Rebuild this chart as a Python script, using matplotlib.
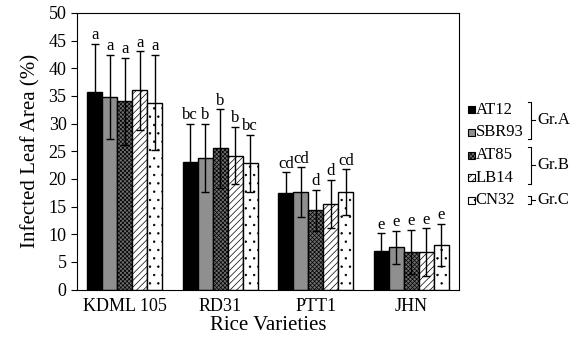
import matplotlib
matplotlib.use("Agg")
import matplotlib.pyplot as plt
from matplotlib import font_manager
import numpy as np
from matplotlib.patches import Rectangle
from matplotlib.lines import Line2D

names = sorted({f.name for f in font_manager.fontManager.ttflist})
serif_choice = [n for n in names if "Liberation Serif" in n or "Times" in n]
plt.rcParams['font.family'] = 'serif'
plt.rcParams['font.serif'] = serif_choice + ['DejaVu Serif']
plt.rcParams['hatch.linewidth'] = 0.5

categories = ["KDML 105", "RD31", "PTT1", "JHN"]
series = ["AT12", "SBR93", "AT85", "LB14", "CN32"]
values = {
    "AT12":  [35.7, 23.0, 17.5, 7.0],
    "SBR93": [34.8, 23.8, 17.6, 7.6],
    "AT85":  [34.0, 25.5, 14.3, 6.8],
    "LB14":  [36.0, 24.2, 15.5, 6.8],
    "CN32":  [33.8, 22.8, 17.6, 8.1],
}
errors = {
    "AT12":  [8.7, 7.0, 3.7, 3.2],
    "SBR93": [7.6, 6.2, 4.5, 3.0],
    "AT85":  [7.9, 7.1, 3.7, 4.0],
    "LB14":  [7.1, 5.2, 4.3, 4.3],
    "CN32":  [8.6, 5.2, 4.1, 3.8],
}
letters = {
    "AT12":  ["a", "bc", "cd", "e"],
    "SBR93": ["a", "b", "cd", "e"],
    "AT85":  ["a", "b", "d", "e"],
    "LB14":  ["a", "b", "d", "e"],
    "CN32":  ["a", "bc", "cd", "e"],
}
groups = [("Gr.A", ["AT12", "SBR93"]), ("Gr.B", ["AT85", "LB14"]), ("Gr.C", ["CN32"])]

styles = {
    "AT12":  dict(facecolor="black", hatch=None),
    "SBR93": dict(facecolor="#8f8f8f", hatch=None),
    "AT85":  dict(facecolor="#6e6e6e", hatch="xxxxxxxx"),
    "LB14":  dict(facecolor="white", hatch="/////"),
    "CN32":  dict(facecolor="white", hatch=".."),
}

fig = plt.figure(figsize=(5.82, 3.40), dpi=100)
ax = fig.add_axes([0.1323, 0.1485, 0.6564, 0.8133])

x = np.arange(len(categories))
w = 0.157
n = len(series)
for i, s in enumerate(series):
    xs = x + (i - (n - 1) / 2) * w
    ax.bar(xs, values[s], width=w, edgecolor="black", linewidth=1.0, **styles[s], zorder=2)
    ax.errorbar(xs, values[s], yerr=errors[s], fmt="none", ecolor="black",
                elinewidth=1.0, capsize=3, capthick=1.0, zorder=3)
    for xi, v, e, t in zip(xs, values[s], errors[s], letters[s]):
        ax.text(xi, v + e + 0.1, t, ha="center", va="bottom", fontsize=12)

ax.set_xlim(-0.5, len(categories) - 0.5)
ax.set_ylim(0, 50)
ax.set_yticks(np.arange(0, 51, 5))
ax.set_xticks(x)
ax.set_xticklabels(categories, fontsize=13)
ax.tick_params(axis="y", labelsize=13, length=4, direction="out")
ax.tick_params(axis="x", length=0, pad=6)
ax.set_ylabel("Infected Leaf Area (%)", fontsize=15, labelpad=6)
ax.set_xlabel("Rice Varieties", fontsize=15, labelpad=1)

# Legend (manual)
W, H = 582, 340
def fx(px): return px / W
def fy(py): return 1 - py / H
row_y = [110, 132.5, 155, 177.5, 200]
for s, yy in zip(series, row_y):
    sz = 7
    r = Rectangle((fx(468), fy(yy + sz / 2)), sz / W, sz / H, transform=fig.transFigure,
                  edgecolor="black", linewidth=0.8, **styles[s])
    fig.patches.append(r)
    fig.text(fx(475.5), fy(yy), s, ha="left", va="center", fontsize=12)

pos = {s: yy for s, yy in zip(series, row_y)}
bx = 531
for gname, members in groups:
    if len(members) == 1:
        y0 = pos[members[0]] - 4
        y1 = pos[members[0]] + 4
    else:
        y0 = pos[members[0]] - 8
        y1 = pos[members[-1]] + 6
    ym = (y0 + y1) / 2
    lw = 0.8
    fig.lines.append(Line2D([fx(bx - 3), fx(bx), fx(bx), fx(bx - 3)],
                            [fy(y0), fy(y0), fy(y1), fy(y1)], transform=fig.transFigure,
                            color="black", linewidth=lw))
    fig.lines.append(Line2D([fx(bx), fx(bx + 4)], [fy(ym), fy(ym)], transform=fig.transFigure,
                            color="black", linewidth=lw))
    fig.text(fx(bx + 6), fy(ym), gname, ha="left", va="center", fontsize=12)

fig.savefig("out.png", dpi=100)
